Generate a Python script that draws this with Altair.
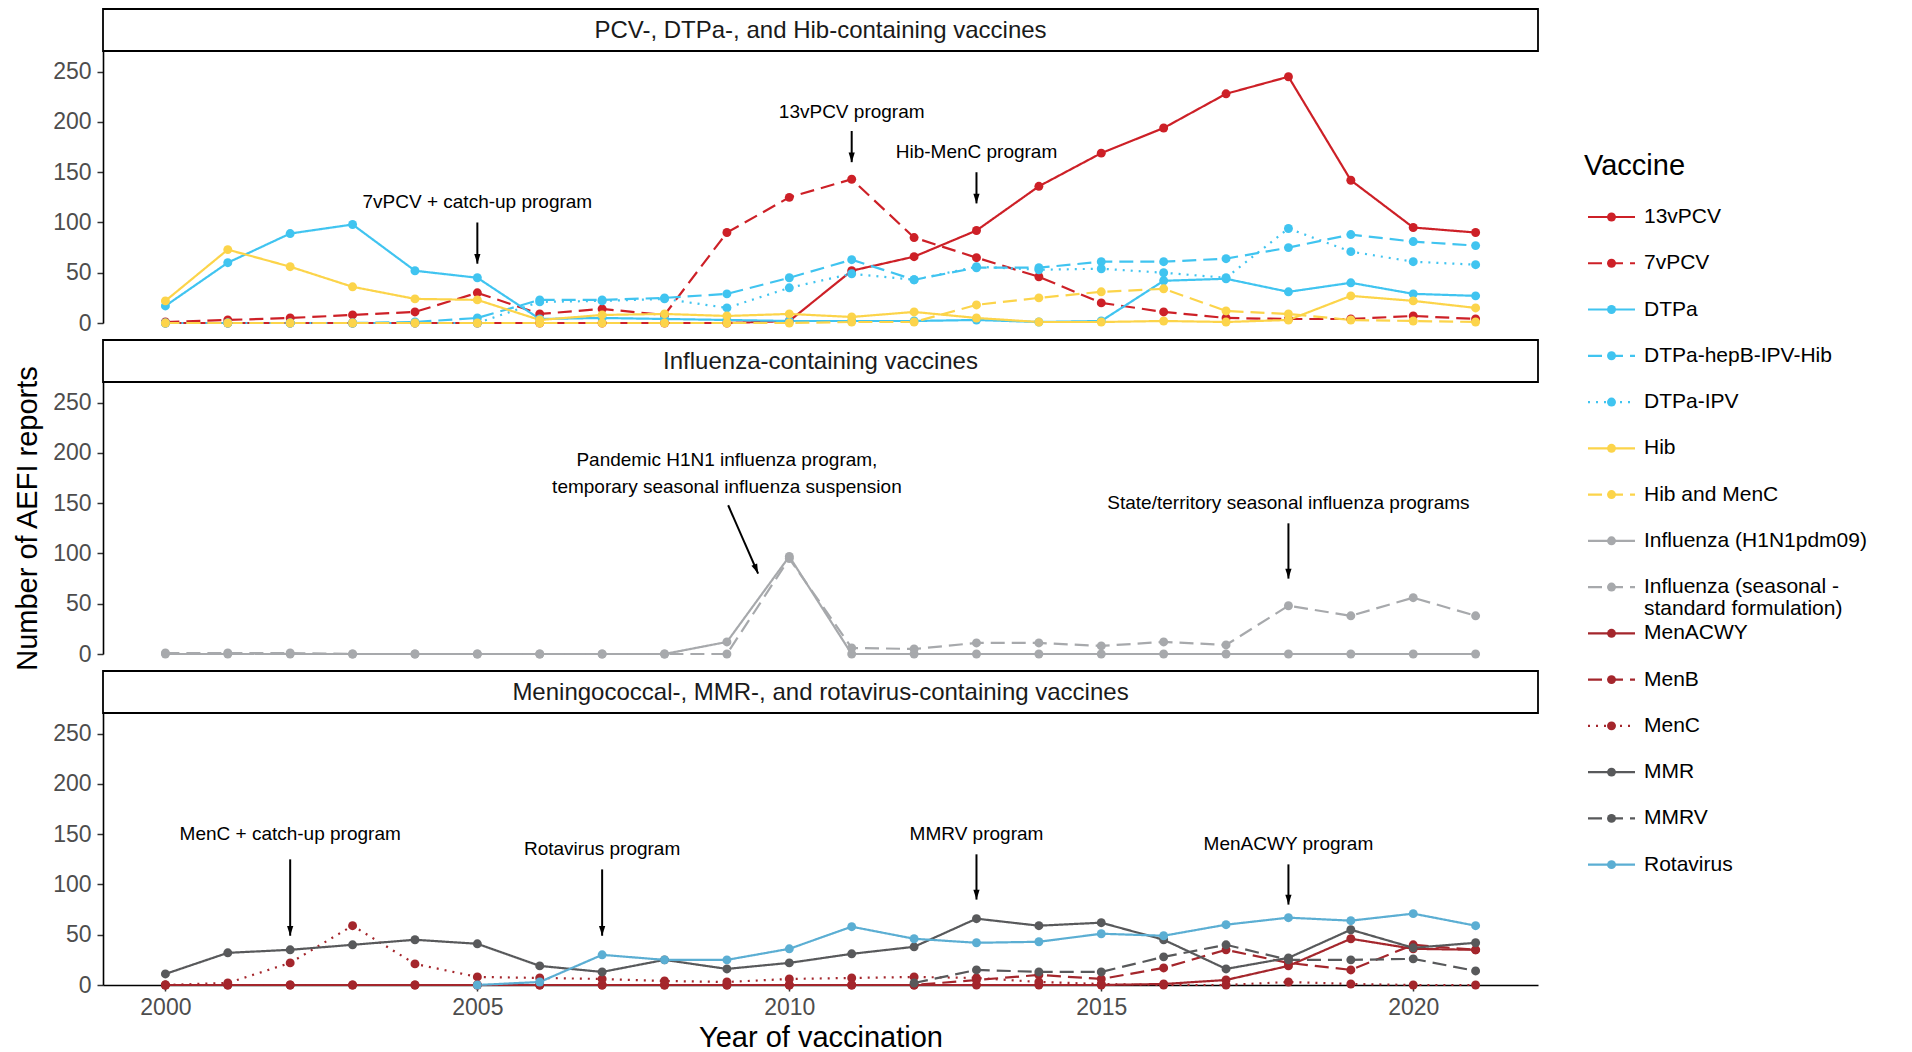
import altair as alt
import pandas as pd

FONT = "Liberation Sans"

years = list(range(2000, 2022))
N = None

vaccines = ["13vPCV", "7vPCV", "DTPa", "DTPa-hepB-IPV-Hib", "DTPa-IPV", "Hib", "Hib and MenC",
            "Influenza (H1N1pdm09)", "Influenza (seasonal - standard formulation)",
            "MenACWY", "MenB", "MenC", "MMR", "MMRV", "Rotavirus"]
legend_labels = ["13vPCV", "7vPCV", "DTPa", "DTPa-hepB-IPV-Hib", "DTPa-IPV", "Hib", "Hib and MenC",
                 "Influenza (H1N1pdm09)", "Influenza (seasonal -\nstandard formulation)",
                 "MenACWY", "MenB", "MenC", "MMR", "MMRV", "Rotavirus"]
colors = ["#CD2027", "#CD2027", "#40C4F0", "#40C4F0", "#40C4F0", "#FCD44A", "#FCD44A",
          "#A7A9AC", "#A7A9AC", "#A4262C", "#A4262C", "#A4262C", "#58595B", "#58595B", "#5BAED3"]
SOLID, DASH, DOT = [1, 0], [14, 7], [2, 6]
dashes = [SOLID, DASH, SOLID, DASH, DOT, SOLID, DASH, SOLID, DASH, SOLID, DASH, DOT, SOLID, DASH, SOLID]
panel_of = ["p1"] * 7 + ["p2"] * 2 + ["p3"] * 6

v_13vPCV = [0, 0, 0, 0, 0, 0, 0, 0, 0, 0, 2, 52, 66, 92, 136, 169, 194, 228, 245, 142, 95, 90]
v_7vPCV = [1, 3, 5, 8, 11, 30, 9, 14, 8, 90, 125, 143, 85, 65, 46, 20, 11, 5, 4, 4, 7, 4]
v_DTPa = [17, 60, 89, 98, 52, 45, 4, 5, 4, 3, 2, 2, 2, 3, 1, 2, 42, 44, 31, 40, 29, 27]
v_DTPa_hepB = [0, 0, 0, 0, 1, 5, 23, 23, 25, 29, 45, 63, 43, 55, 55, 61, 61, 64, 75, 88, 81, 77]
v_DTPa_IPV = [0, 0, 0, 0, 0, 0, 21, 22, 24, 15, 35, 49, 43, 56, 53, 54, 50, 45, 94, 71, 61, 58]
v_Hib = [22, 73, 56, 36, 24, 23, 3, 8, 9, 7, 9, 6, 11, 5, 1, 1, 2, 1, 3, 27, 22, 15]
v_HibMenC = [0, 0, 0, 0, 0, 0, 0, 0, 0, 0, 0, 1, 1, 18, 25, 31, 34, 12, 9, 3, 2, 1]
v_H1N1 = [0, 0, 0, 0, 0, 0, 0, 0, 0, 12, 97, 0, 0, 0, 0, 0, 0, 0, 0, 0, 0, 0]
v_seasonal = [1, 1, 1, 0, 0, 0, 0, 0, 0, 0, 95, 6, 5, 11, 11, 8, 12, 9, 48, 38, 56, 38]
v_MenACWY = [0, 0, 0, 0, 0, 0, 0, 0, 0, 0, 0, 0, 0, 0, 0, 0, 1, 5, 19, 46, 36, 35]
v_MenB = [0, 0, 0, 0, 0, 0, 0, 0, 0, 0, 0, 0, 0, 5, 10, 6, 17, 35, 22, 15, 40, 35]
v_MenC = [0, 2, 22, 59, 21, 8, 7, 6, 4, 3, 6, 7, 8, 7, 3, 1, 0, 0, 3, 1, 0, 0]
v_MMR = [11, 32, 35, 40, 45, 41, 19, 13, 25, 16, 22, 31, 38, 66, 59, 62, 45, 16, 27, 55, 37, 42]
v_MMRV = [N, N, N, N, N, N, N, N, N, N, N, N, 2, 15, 13, 13, 28, 40, 25, 25, 26, 14]
v_Rota = [N, N, N, N, N, 0, 3, 30, 25, 25, 36, 58, 46, 42, 43, 51, 49, 60, 67, 64, 71, 59]

series = [v_13vPCV, v_7vPCV, v_DTPa, v_DTPa_hepB, v_DTPa_IPV, v_Hib, v_HibMenC,
          v_H1N1, v_seasonal, v_MenACWY, v_MenB, v_MenC, v_MMR, v_MMRV, v_Rota]

rows = []
for i, (name, vals) in enumerate(zip(vaccines, series)):
    for yr, val in zip(years, vals):
        if val is not None:
            rows.append({"vaccine": name, "idx": i, "year": yr, "value": val, "panel": panel_of[i]})
df = pd.DataFrame(rows)

strip_titles = {"p1": "PCV-, DTPa-, and Hib-containing vaccines",
                "p2": "Influenza-containing vaccines",
                "p3": "Meningococcal-, MMR-, and rotavirus-containing vaccines"}

# annotations: label, text x, text y (first line), arrow start x/y, arrow end x/y, head angle
ann_p1_label = ["7vPCV + catch-up program", "13vPCV program", "Hib-MenC program"]
ann_p1_tx = [2005, 2011, 2013]
ann_p1_ty = [120, 210, 170]
ann_p1_x1 = [2005, 2011, 2013]
ann_p1_y1 = [100, 191, 150]
ann_p1_x2 = [2005, 2011, 2013]
ann_p1_y2 = [59, 160, 119]
ann_p1_ang = [0, 0, 0]

ann_p2_label = ["Pandemic H1N1 influenza program,\ntemporary seasonal influenza suspension",
                "State/territory seasonal influenza programs"]
ann_p2_tx = [2009, 2018]
ann_p2_ty = [193, 150]
ann_p2_x1 = [2009.02, 2018]
ann_p2_y1 = [148, 130]
ann_p2_x2 = [2009.5, 2018]
ann_p2_y2 = [80, 75]
ann_p2_ang = [337, 0]

ann_p3_label = ["MenC + catch-up program", "Rotavirus program", "MMRV program", "MenACWY program"]
ann_p3_tx = [2002, 2007, 2013, 2018]
ann_p3_ty = [150, 135, 150, 140]
ann_p3_x1 = [2002, 2007, 2013, 2018]
ann_p3_y1 = [125, 115, 130, 120]
ann_p3_x2 = [2002, 2007, 2013, 2018]
ann_p3_y2 = [49, 49, 85, 80]
ann_p3_ang = [0, 0, 0, 0]


def ann_df(label, tx, ty, x1, y1, x2, y2, ang):
    return pd.DataFrame({"label": label, "tx": tx, "ty": ty, "x1": x1, "y1": y1,
                         "x2": x2, "y2": y2, "ang": ang})


anns = {"p1": ann_df(ann_p1_label, ann_p1_tx, ann_p1_ty, ann_p1_x1, ann_p1_y1, ann_p1_x2, ann_p1_y2, ann_p1_ang),
        "p2": ann_df(ann_p2_label, ann_p2_tx, ann_p2_ty, ann_p2_x1, ann_p2_y1, ann_p2_x2, ann_p2_y2, ann_p2_ang),
        "p3": ann_df(ann_p3_label, ann_p3_tx, ann_p3_ty, ann_p3_x1, ann_p3_y1, ann_p3_x2, ann_p3_y2, ann_p3_ang)}

PW, PH = 1435, 272
YMAX = 270.6
STRIP = 42
GAP = 17
ARROW = "M0,0L-0.32,-1L0.32,-1Z"
PT = 80
LW = 2.2

cscale = alt.Scale(domain=vaccines, range=colors)
dscale = alt.Scale(domain=vaccines, range=dashes)
xscale = alt.Scale(domain=[1999, 2022], nice=False, zero=False)
yscale = alt.Scale(domain=[0, YMAX], nice=False, zero=True)


def panel(p, bottom=False, ytitle=False):
    d = df[df.panel == p]
    if bottom:
        xax = alt.Axis(values=[2000, 2005, 2010, 2015, 2020], format="d", title="Year of vaccination",
                       labelPadding=5, titlePadding=4)
    else:
        xax = None
    ykw = dict(values=[0, 50, 100, 150, 200, 250], labelPadding=6, titlePadding=10)
    ykw["title"] = "Number of AEFI reports" if ytitle else ""
    yax = alt.Axis(**ykw)

    def X(f):
        return alt.X(f, scale=xscale, axis=xax)

    def Y(f):
        return alt.Y(f, scale=yscale, axis=yax)

    lines = alt.Chart(d).mark_line(strokeWidth=LW).encode(
        x=X("year:Q"), y=Y("value:Q"),
        color=alt.Color("vaccine:N", scale=cscale, legend=None),
        strokeDash=alt.StrokeDash("vaccine:N", scale=dscale, legend=None),
        order=alt.Order("year:Q"))
    pts = alt.Chart(d).mark_circle(size=PT, opacity=1).encode(
        x=X("year:Q"), y=Y("value:Q"),
        color=alt.Color("vaccine:N", scale=cscale, legend=None),
        order=alt.Order("idx:Q"))
    a = anns[p]
    rule = alt.Chart(a).mark_rule(strokeWidth=2, color="black").encode(
        x=X("x1:Q"), y=Y("y1:Q"), x2="x2:Q", y2="y2:Q")
    head = alt.Chart(a).mark_point(shape=ARROW, filled=True, size=380, color="black", opacity=1,
                                   strokeWidth=0).encode(
        x=X("x2:Q"), y=Y("y2:Q"), angle=alt.Angle("ang:Q", scale=None))
    txt = alt.Chart(a).mark_text(font=FONT, fontSize=19, color="black", lineBreak="\n",
                                 lineHeight=27, baseline="middle").encode(
        x=X("tx:Q"), y=Y("ty:Q"), text="label:N")
    sd = pd.DataFrame({"t": [strip_titles[p]]})
    strip = alt.Chart(sd).mark_rect(fill="white", stroke="black", strokeWidth=1.8).encode(
        x=alt.value(0), x2=alt.value(PW), y=alt.value(-STRIP), y2=alt.value(0))
    stext = alt.Chart(sd).mark_text(font=FONT, fontSize=24, color="#1A1A1A", baseline="middle").encode(
        x=alt.value(PW / 2), y=alt.value(-STRIP / 2 + 1), text="t:N")
    return alt.layer(lines, pts, rule, head, txt, strip, stext).properties(width=PW, height=PH)


panels = alt.vconcat(panel("p1"), panel("p2", ytitle=True), panel("p3", bottom=True),
                     spacing=GAP + STRIP, bounds="flush")

ROW = 46.26
LH = 900
TOP0 = -166 / ROW
leg = pd.DataFrame({"vaccine": vaccines, "label": legend_labels, "idx": list(range(len(vaccines)))})
ly = alt.Y("idx:Q", scale=alt.Scale(domain=[TOP0, TOP0 + LH / ROW], range=[0, LH], nice=False, zero=False),
           axis=None)
leg_rule = alt.Chart(leg).mark_rule(strokeWidth=LW).encode(
    x=alt.value(4), x2=alt.value(51), y=ly,
    color=alt.Color("vaccine:N", scale=cscale, legend=None),
    strokeDash=alt.StrokeDash("vaccine:N", scale=dscale, legend=None))
leg_pt = alt.Chart(leg).mark_circle(size=PT, opacity=1).encode(
    x=alt.value(27.5), y=ly, color=alt.Color("vaccine:N", scale=cscale, legend=None))
leg_txt = alt.Chart(leg).mark_text(font=FONT, fontSize=21, align="left", baseline="middle",
                                   lineBreak="\n", lineHeight=22, color="black").encode(
    x=alt.value(60), y=ly, text="label:N")
leg_title = alt.Chart(pd.DataFrame({"t": ["Vaccine"]})).mark_text(
    font=FONT, fontSize=29, align="left", baseline="middle", color="black").encode(
    x=alt.value(0), y=alt.value(115), text="t:N")
legend_chart = alt.layer(leg_rule, leg_pt, leg_txt, leg_title).properties(width=290, height=LH)

chart = alt.hconcat(panels, legend_chart, spacing=45).properties(
    padding={"left": 13, "top": 8, "right": 0, "bottom": 0},
    background="white"
).configure_view(stroke=None).configure_axis(
    domainColor="black", domainWidth=1.6, tickColor="#333333", tickWidth=1.5, tickSize=6,
    labelFont=FONT, labelFontSize=23, labelColor="#4D4D4D",
    titleFont=FONT, titleFontSize=29, titleFontWeight="normal", titleColor="black", grid=False
)

chart.save("out.html", embed_options={"renderer": "svg", "actions": False})
